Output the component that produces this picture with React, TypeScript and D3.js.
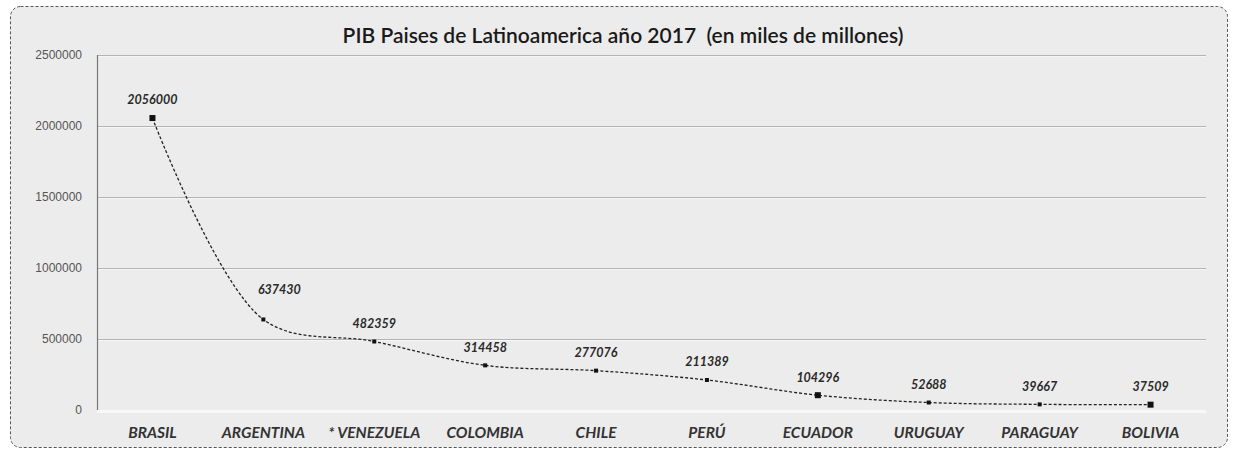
import React from "react";
import * as d3 from "d3";

const countries = [
  "BRASIL",
  "ARGENTINA",
  "* VENEZUELA",
  "COLOMBIA",
  "CHILE",
  "PERÚ",
  "ECUADOR",
  "URUGUAY",
  "PARAGUAY",
  "BOLIVIA",
];
const pib = [2056000, 637430, 482359, 314458, 277076, 211389, 104296, 52688, 39667, 37509];
const yTicks = [0, 500000, 1000000, 1500000, 2000000, 2500000];
const title = "PIB Paises de Latinoamerica año 2017  (en miles de millones)";

const W = 1233;
const H = 452;
const plot = { left: 97, right: 1206, top: 55, bottom: 410 };

export default function App() {
  const x = d3
    .scaleBand<string>()
    .domain(countries)
    .range([plot.left, plot.right]);
  const y = d3.scaleLinear().domain([0, 2500000]).range([plot.bottom, plot.top]);

  const cx = (i: number) => (x(countries[i]) ?? 0) + x.bandwidth() / 2;

  const line = d3
    .line<number>()
    .x((_, i) => cx(i))
    .y((d) => y(d))
    .curve(d3.curveCatmullRom.alpha(0.5));

  return (
    <svg
      width={W}
      height={H}
      style={{ position: "absolute", left: 0, top: 0, background: "#fff" }}
      fontFamily="Lato, 'Open Sans', sans-serif"
    >
      {/* chart frame */}
      <rect
        x={10.5}
        y={6.5}
        width={1217}
        height={441}
        rx={10}
        fill="#ececec"
        stroke="#555"
        strokeDasharray="3,2"
      />

      <text
        x={623}
        y={43}
        textAnchor="middle"
        fontSize={21}
        fill="#1a1a1a"
        fontWeight={600}
        style={{ whiteSpace: "pre" }}
      >
        {title}
      </text>

      {/* gridlines */}
      {yTicks.map((t) => (
        <g key={t}>
          {t > 0 && (
            <>
              <line
                x1={plot.left}
                x2={plot.right}
                y1={y(t) + 0.5}
                y2={y(t) + 0.5}
                stroke="#b4b4b4"
              />
              <line
                x1={plot.left}
                x2={plot.right}
                y1={y(t) + 1.5}
                y2={y(t) + 1.5}
                stroke="#f6f6f6"
              />
            </>
          )}
          <text
            x={82}
            y={y(t)}
            dy="0.35em"
            textAnchor="end"
            fontSize={12}
            fill="#555"
            fontFamily="'Liberation Sans', sans-serif"
          >
            {t}
          </text>
        </g>
      ))}
      <rect x={plot.left} y={plot.bottom} width={plot.right - plot.left} height={3} fill="#f8f8f8" />
      <line
        x1={plot.left + 0.5}
        x2={plot.left + 0.5}
        y1={plot.top}
        y2={plot.bottom}
        stroke="#777"
        strokeWidth={1.2}
      />

      {/* series */}
      <path
        d={line(pib) ?? ""}
        fill="none"
        stroke="#222"
        strokeWidth={1.3}
        strokeDasharray="3,2"
      />
      {pib.map((v, i) => {
        const s = i === 0 || i === 6 || i === pib.length - 1 ? 6 : 4;
        return (
          <rect
            key={countries[i]}
            x={cx(i) - s / 2}
            y={y(v) - s / 2}
            width={s}
            height={s}
            fill="#111"
          />
        );
      })}

      {/* data labels */}
      {pib.map((v, i) => (
        <text
          key={`l-${countries[i]}`}
          x={cx(i) + (i === 1 ? 16 : 0)}
          y={y(v) - (i === 1 ? 30 : 18)}
          dy="0.35em"
          textAnchor="middle"
          fontSize={12.5}
          fontStyle="italic"
          fontWeight={700}
          fill="#2a2a2a"
        >
          {v}
        </text>
      ))}

      {/* category labels */}
      {countries.map((c, i) => (
        <text
          key={`c-${c}`}
          x={cx(i)}
          y={433}
          dy="0.35em"
          textAnchor="middle"
          fontSize={15.5}
          fontStyle="italic"
          fontWeight={700}
          fill="#333"
        >
          {c}
        </text>
      ))}
    </svg>
  );
}
